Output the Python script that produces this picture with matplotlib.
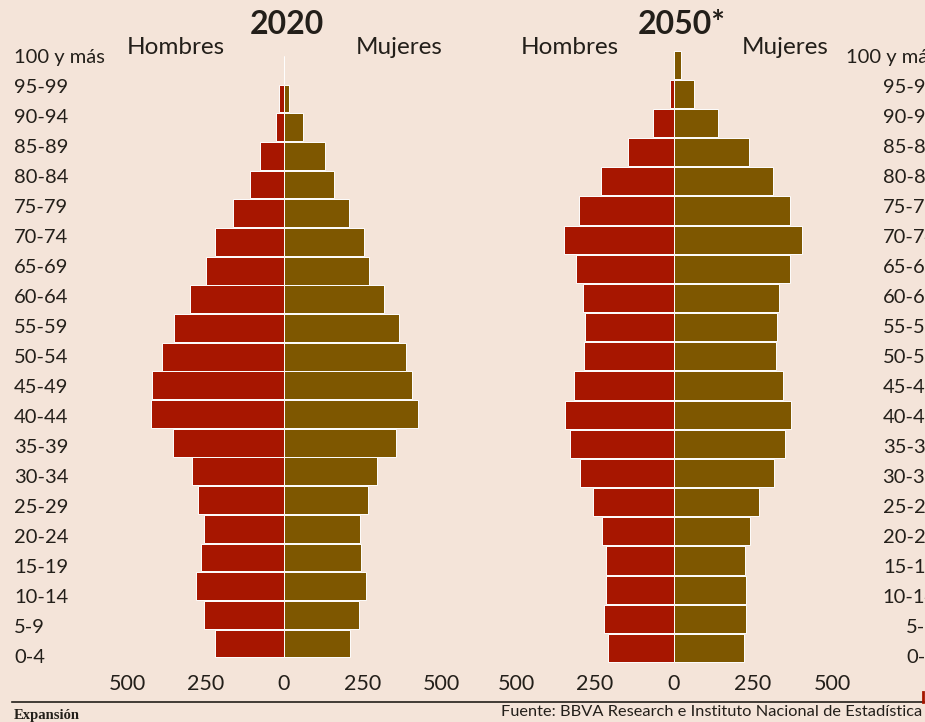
import matplotlib
matplotlib.use("Agg")
import matplotlib.pyplot as plt
from matplotlib.lines import Line2D

# age groups, bottom to top
ages = ["0-4", "5-9", "10-14", "15-19", "20-24", "25-29", "30-34", "35-39",
        "40-44", "45-49", "50-54", "55-59", "60-64", "65-69", "70-74",
        "75-79", "80-84", "85-89", "90-94", "95-99", "100 y más"]

hombres_2020 = [220, 255, 280, 263, 256, 275, 294, 354, 425, 419, 390,
                351, 300, 247, 219, 162, 108, 76, 26, 15, 1]
mujeres_2020 = [209, 240, 261, 244, 242, 268, 295, 356, 426, 408, 390,
                366, 318, 272, 255, 207, 159, 132, 61, 16, 1]

hombres_2050 = [209, 220, 216, 216, 228, 257, 298, 330, 344, 315, 286,
                282, 287, 311, 349, 302, 232, 146, 65, 13, 0]
mujeres_2050 = [222, 229, 227, 225, 241, 269, 315, 352, 369, 346, 324,
                325, 333, 366, 405, 368, 313, 237, 140, 63, 23]

xticks = [-500, -250, 0, 250, 500]

BG = "#F4E4D9"
RED = "#A71600"
BROWN = "#7E5700"
TXT = "#231F1A"
FONT = ["Lato", "DejaVu Sans"]

W, H = 925, 722
fig = plt.figure(figsize=(W / 100, H / 100), dpi=100, facecolor=BG)


def px_axes(left, right, top, bottom):
    return fig.add_axes([left / W, 1 - bottom / H, (right - left) / W, (bottom - top) / H])


def pyramid(ax, men, women, pad):
    y = range(len(ages))
    ax.barh(y, [-m for m in men], height=0.97, color=RED, edgecolor="white", linewidth=0.7)
    ax.barh(y, women, height=0.97, color=BROWN, edgecolor="white", linewidth=0.7)
    ax.set_xlim(-500, 500)
    ax.set_ylim(-0.5, len(ages) - 0.5)
    ax.set_facecolor("none")
    for s in ax.spines.values():
        s.set_visible(False)
    ax.set_yticks([])
    ax.set_xticks(xticks)
    ax.set_xticklabels([str(abs(t)) for t in xticks], family=FONT, fontsize=15.5, color=TXT)
    ax.tick_params(axis="x", length=0, pad=pad)


ax1 = px_axes(127, 441, 55.5, 657.8)
pyramid(ax1, hombres_2020, mujeres_2020, 12)
ax2 = px_axes(516, 832, 50.1, 662.6)
pyramid(ax2, hombres_2050, mujeres_2050, 8.5)

# age labels on both sides (right column runs off the edge, as in the source)
lab = px_axes(0, W, 42, 673)
lab.set_xlim(0, W)
lab.set_ylim(-0.5, len(ages) - 0.5)
lab.axis("off")
for i, a in enumerate(ages):
    lab.text(14, i, a, ha="left", va="center", family=FONT, fontsize=14.5, color=TXT)
    lab.text(937, i, a, ha="right", va="center", family=FONT, fontsize=14.5, color=TXT,
             clip_on=False)

# headers
fig.text(287 / W, 1 - 25 / H, "2020", ha="center", va="center", family=FONT,
         fontweight="bold", fontsize=23, color=TXT)
fig.text(682 / W, 1 - 25 / H, "2050*", ha="center", va="center", family=FONT,
         fontweight="bold", fontsize=23, color=TXT)
for xc, t in [(176, "Hombres"), (399, "Mujeres"), (570, "Hombres"), (785, "Mujeres")]:
    fig.text(xc / W, 1 - 47 / H, t, ha="center", va="center", family=FONT,
             fontsize=17.5, color=TXT)

# footer
fig.add_artist(Line2D([12 / W, 1], [1 - 702 / H, 1 - 702 / H], color=TXT, lw=1.2))
fig.add_artist(Line2D([923 / W, 923 / W], [1 - 702 / H, 1 - 692 / H], color=RED, lw=2))
fig.text(14 / W, 1 - 716 / H, "Expansión", ha="left", va="center",
         family=["Liberation Serif", "DejaVu Serif"], fontweight="bold", fontsize=10.5, color=TXT)
fig.text(922 / W, 1 - 712 / H, "Fuente: BBVA Research e Instituto Nacional de Estadística",
         ha="right", va="center", family=FONT, fontsize=11.8, color=TXT)

fig.savefig("out.png", dpi=100, facecolor=BG)
